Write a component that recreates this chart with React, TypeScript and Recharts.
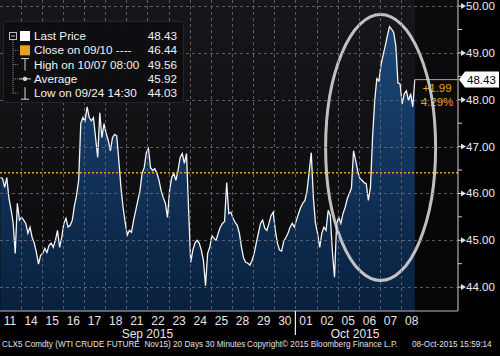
import { AreaChart, Area, XAxis, YAxis, ReferenceLine, ReferenceArea, ReferenceDot } from 'recharts';

const days = ['11', '14', '15', '16', '17', '18', '21', '22', '23', '24', '25', '28', '29', '30', '01', '02', '05', '06', '07', '08'];
const monthLabels = ['Sep 2015', 'Oct 2015'];
const monthStarts = [0, 14];

// 10 readings per session
const pricesByDay: number[][] = [
  [46.34, 46.32, 46.13, 46.34, 45.91, 45.66, 45.38, 44.72, 45.79, 45.43],
  [45.49, 45.43, 45.36, 45.15, 45.28, 45.06, 44.94, 44.74, 44.49, 44.68],
  [44.72, 44.83, 44.74, 44.89, 44.94, 44.85, 45.0, 45.21, 44.85, 45.06],
  [45.36, 45.47, 45.28, 45.32, 45.43, 45.74, 45.96, 46.28, 47.49, 47.62],
  [47.55, 47.85, 47.62, 47.55, 47.62, 47.19, 46.77, 47.72, 47.19, 47.49],
  [47.28, 47.13, 46.91, 47.19, 47.26, 47.23, 46.7, 46.13, 45.7, 45.38],
  [45.11, 45.21, 45.17, 45.43, 45.64, 45.85, 46.06, 46.43, 46.55, 46.87],
  [46.96, 46.55, 46.49, 46.53, 46.43, 46.28, 46.06, 45.91, 45.79, 45.49],
  [46.06, 46.34, 46.43, 46.28, 46.49, 46.77, 46.85, 46.64, 46.85, 45.64],
  [44.53, 44.79, 44.94, 45.0, 44.94, 44.79, 44.57, 44.03, 44.72, 44.85],
  [45.1, 45.04, 45.0, 45.15, 45.28, 45.36, 45.4, 46.23, 45.57, 45.6],
  [45.47, 45.38, 45.32, 45.15, 44.85, 44.62, 44.53, 44.51, 44.47, 44.57],
  [44.72, 44.94, 45.15, 45.36, 45.43, 45.26, 45.21, 45.36, 45.53, 45.6],
  [45.21, 44.94, 44.79, 44.77, 44.98, 45.06, 45.15, 45.28, 45.36, 45.28],
  [45.43, 45.57, 45.7, 45.79, 45.85, 46.06, 46.45, 46.87, 45.91, 45.36],
  [45.15, 44.85, 45.15, 45.28, 45.21, 45.64, 45.53, 44.75, 44.21, 45.36],
  [45.49, 45.36, 45.57, 45.7, 45.88, 46.0, 46.11, 46.91, 46.7, 46.47],
  [46.32, 46.28, 46.23, 46.21, 45.85, 46.13, 47.2, 47.98, 48.45, 48.4],
  [48.75, 48.96, 49.15, 49.37, 49.56, 49.51, 49.43, 49.15, 48.36, 48.34],
  [47.91, 48.13, 48.19, 47.98, 48.13, 47.85, 48.43],
];
const SAMPLES = 10;

const yTicks = [44, 44.5, 45, 45.5, 46, 46.5, 47, 47.5, 48, 48.5, 49, 49.5, 50];

const prevClose = 46.44;
const lastPrice = 48.43;
const changeAbs = '+1.99';
const changePct = '4.29%';

const legendLabels = ['Last Price', 'Close on 09/10 ----', 'High on 10/07 08:00', 'Average', 'Low on 09/24 14:30'];
const legendValues = ['48.43', '46.44', '49.56', '45.92', '44.03'];

const footerTexts = [
  'CLX5 Comdty (WTI CRUDE FUTURE  Nov15) 20 Days 30 Minutes',
  'Copyright\u00a9 2015 Bloomberg Finance L.P.',
  '08-Oct-2015 15:59:14',
];

// circled region (annotation): centre in session/price terms
const circleAt = { t: 18.03, price: 46.98 };

const data = pricesByDay.flatMap((arr, k) => arr.map((price, j) => ({ t: k + (j + 0.5) / SAMPLES, price })));
const lastT = data[data.length - 1].t;
const X_MAX = 21.69;
const dayCenters = days.map((_, k) => k + 0.5);
const dayBounds = days.slice(1).map((_, k) => k + 1);
const monthCenters = monthStarts.map((s, i) => (s + Math.min(monthStarts[i + 1] ?? days.length, lastT)) / 2);
const monthTicks = [...monthCenters, ...monthStarts.slice(1)];

const CHART_W = 500;
const CHART_H = 356;
const AXIS_W = 42;
const PLOT_W = CHART_W - AXIS_W;
const PLOT_H = 311;

const ORANGE = '#e8a21e';
const GRID = '#6e6e78';
const FONT = '"Liberation Sans", Arial, sans-serif';

function DayTick(p: any) {
  const v = p.payload.value;
  if (Number.isInteger(v)) {
    const x = Math.round(p.x) + 0.5;
    return <line x1={x} x2={x} y1={p.y - PLOT_H} y2={p.y} stroke={GRID} strokeOpacity={0.8} strokeDasharray="3 3" shapeRendering="crispEdges" />;
  }
  return (
    <text x={p.x} y={p.y + 14} textAnchor="middle" fill="#e6e6e6" fontSize={12} fontFamily={FONT}>{days[Math.floor(v)]}</text>
  );
}

function MonthTick(p: any) {
  const v = p.payload.value;
  const i = monthCenters.indexOf(v);
  if (i < 0) {
    return <line x1={p.x} x2={p.x} y1={p.y - 16} y2={p.y + 8} stroke="#f0f0f0" strokeWidth={1.2} />;
  }
  return (
    <text x={p.x} y={p.y + 11} textAnchor="middle" fill="#e6e6e6" fontSize={12} fontFamily={FONT}>{monthLabels[i]}</text>
  );
}

function PriceTick(p: any) {
  const v = p.payload.value;
  if (!Number.isInteger(v)) {
    return <line x1={p.x} x2={p.x + 4} y1={p.y} y2={p.y} stroke="#cfcfcf" />;
  }
  const y = Math.round(p.y) + 0.5;
  return (
    <g>
      <line x1={p.x - PLOT_W} x2={p.x} y1={y} y2={y} stroke={GRID} strokeOpacity={0.8} strokeDasharray="3 3" shapeRendering="crispEdges" />
      <line x1={p.x} x2={p.x + 4} y1={p.y} y2={p.y} stroke="#e0e0e0" />
      <polygon points={`${p.x + 3},${p.y - 3} ${p.x + 8},${p.y} ${p.x + 3},${p.y + 3}`} fill="#e0e0e0" />
      <text x={p.x + 8} y={p.y + 4} fill="#eeeeee" fontSize={11.5} fontFamily={FONT}>{v.toFixed(2)}</text>
    </g>
  );
}

function LastPriceLabel(props: any) {
  const vb = props.viewBox;
  const xr = vb.x + vb.width;
  const y = vb.y;
  return (
    <g fontFamily={FONT}>
      <polygon points={`${xr + 1},${y} ${xr + 7},${y - 8} ${xr + 41},${y - 8} ${xr + 41},${y + 8} ${xr + 7},${y + 8}`} fill="#ffffff" />
      <text x={xr + 9} y={y + 4} fill="#000" fontSize={11.5}>{lastPrice.toFixed(2)}</text>
      <text x={xr - 21} y={y + 12} fill={ORANGE} fontSize={11.5} textAnchor="middle">{changeAbs}</text>
      <text x={xr - 21} y={y + 26} fill={ORANGE} fontSize={11.5} textAnchor="middle">{changePct}</text>
    </g>
  );
}

function LegendIcon({ i, y }: { i: number; y: number }) {
  const c = '#d8d8d8';
  if (i === 0) return <rect x={16} y={y - 5} width={10} height={10} fill="#ffffff" />;
  if (i === 1) return <rect x={16} y={y - 5} width={10} height={10} fill={ORANGE} />;
  if (i === 2) return <g stroke={c}><line x1={21} x2={21} y1={y - 6} y2={y + 6} /><line x1={17} x2={25} y1={y - 6} y2={y - 6} /></g>;
  if (i === 3) return <g stroke={c}><line x1={15} x2={27} y1={y} y2={y} /><circle cx={21} cy={y} r={1.8} fill={c} /></g>;
  return <g stroke={c}><line x1={21} x2={21} y1={y - 6} y2={y + 6} /><line x1={17} x2={25} y1={y + 6} y2={y + 6} /></g>;
}

function LegendBox() {
  const rows = legendLabels.map((_, i) => 14 + i * 14.3);
  return (
    <div style={{ position: 'absolute', left: 3, top: 21, width: 179, height: 80, background: 'rgba(14,14,17,0.92)', border: '1px solid #26262a', borderRadius: 3, fontFamily: FONT, color: '#f2f2f2', fontSize: 11.7 }}>
      <svg width={179} height={80} style={{ position: 'absolute', left: 0, top: 0 }}>
        <rect x={5.5} y={rows[0] - 3.5} width={7} height={7} fill="none" stroke="#bbb" />
        <line x1={7} x2={11} y1={rows[0]} y2={rows[0]} stroke="#bbb" />
        <line x1={9} x2={9} y1={rows[0] + 4} y2={rows[4]} stroke="#888" strokeDasharray="1 1" />
        {rows.slice(1).map((y, i) => <line key={i} x1={9} x2={14} y1={y} y2={y} stroke="#888" strokeDasharray="1 1" />)}
        {rows.map((y, i) => <LegendIcon key={i} i={i} y={y} />)}
      </svg>
      {legendLabels.map((l, i) => (
        <div key={l} style={{ position: 'absolute', left: 30, top: rows[i] - 8, lineHeight: '16px', whiteSpace: 'pre' }}>{l}</div>
      ))}
      {legendValues.map((v, i) => (
        <div key={i} style={{ position: 'absolute', right: 6, top: rows[i] - 8, lineHeight: '16px' }}>{v}</div>
      ))}
    </div>
  );
}

export default function App() {
  return (
    <div style={{ position: 'absolute', left: 0, top: 0, width: CHART_W, height: CHART_H, background: '#000', overflow: 'hidden' }}>
      <div style={{ position: 'absolute', left: 0, top: 0, width: PLOT_W, height: PLOT_H, background: 'linear-gradient(#17171b, #0a0a0c)' }} />
      <div style={{ position: 'absolute', left: 0, top: 0 }}>
        <AreaChart width={CHART_W} height={CHART_H} data={data} margin={{ top: 0, right: 0, bottom: 15, left: 0 }}>
          <defs>
            <linearGradient id="fillArea" x1="0" y1="0" x2="0" y2="1">
              <stop offset="0%" stopColor="#1b4677" />
              <stop offset="100%" stopColor="#08203d" />
            </linearGradient>
          </defs>
          <Area type="linear" dataKey="price" stroke="#f4f4f4" strokeWidth={1.3} fill="url(#fillArea)" fillOpacity={1}
            isAnimationActive={false} dot={false} activeDot={false} />
          <ReferenceArea x1={lastT} x2={X_MAX} fill="#000" fillOpacity={0.45} stroke="none" />
          <XAxis dataKey="t" type="number" domain={[0.03, X_MAX]} allowDataOverflow ticks={[...dayCenters, ...dayBounds]} interval={0}
            tick={<DayTick />} tickLine={false} tickSize={0} tickMargin={0} height={16}
            axisLine={{ stroke: '#bdbdbd' }} />
          <XAxis xAxisId="m" dataKey="t" type="number" domain={[0.03, X_MAX]} allowDataOverflow ticks={monthTicks} interval={0}
            tick={<MonthTick />} tickLine={false} tickSize={0} tickMargin={0} height={14} axisLine={false} />
          <YAxis orientation="right" type="number" domain={[43.49, 50.13]} allowDataOverflow ticks={yTicks} interval={0}
            tick={<PriceTick />} tickLine={false} tickSize={0} tickMargin={0} width={AXIS_W}
            axisLine={{ stroke: '#d0d0d0' }} />
          <ReferenceLine y={prevClose} stroke={ORANGE} strokeWidth={1.5} strokeDasharray="2 2" />
          <ReferenceLine segment={[{ x: lastT, y: lastPrice }, { x: X_MAX, y: lastPrice }]} stroke={ORANGE} strokeWidth={1}
            label={(props: any) => <LastPriceLabel {...props} />} />
          <ReferenceDot x={circleAt.t} y={circleAt.price} r={1}
            shape={(p: any) => <ellipse cx={p.cx} cy={p.cy} rx={55} ry={133} fill="none" stroke="#d4d4d4" strokeWidth={3} strokeOpacity={0.9} />} />
        </AreaChart>
      </div>
      <LegendBox />
      <div style={{ position: 'absolute', top: 340, left: 0, width: CHART_W, height: 14, fontFamily: FONT, fontSize: 8.2, color: '#e0e0e0', whiteSpace: 'pre' }}>
        <span style={{ position: 'absolute', left: 2 }}>{footerTexts[0]}</span>
        <span style={{ position: 'absolute', left: 247 }}>{footerTexts[1]}</span>
        <span style={{ position: 'absolute', left: 412 }}>{footerTexts[2]}</span>
      </div>
    </div>
  );
}
